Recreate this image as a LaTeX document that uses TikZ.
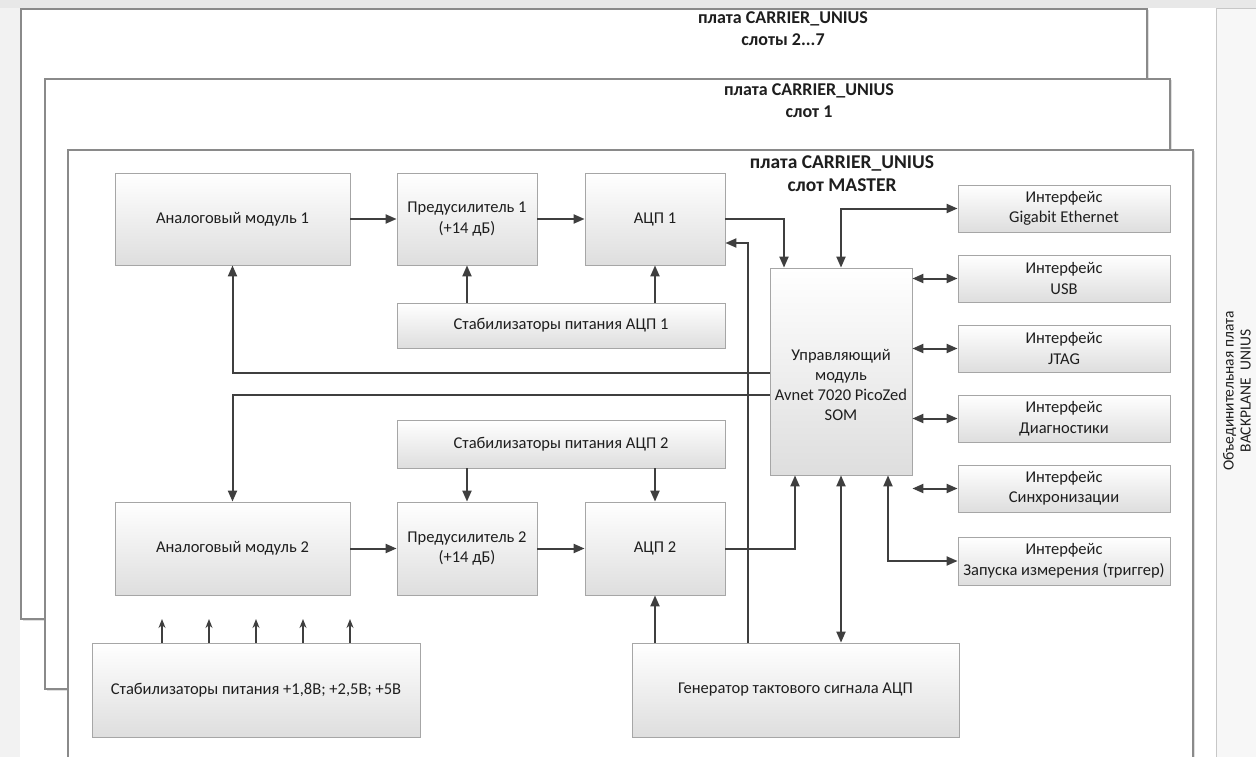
\documentclass[tikz,border=0pt]{standalone}
\usepackage{fontspec}
\setmainfont{Carlito}
\usetikzlibrary{arrows.meta,shadows}
\definecolor{ln}{HTML}{3F3F3F}
\definecolor{frm}{HTML}{8A8A8A}
\definecolor{txt}{HTML}{1E1E1E}
\begin{document}
\begin{tikzpicture}[x=1pt,y=-1pt,
  blk/.style={draw=black!35, line width=0.8pt, top color=white, bottom color=black!13,
    align=center, inner sep=1pt, font=\fontsize{16.5}{20.5}\selectfont, text=txt,
    drop shadow={shadow xshift=1.3pt,shadow yshift=-1.3pt,opacity=0.3}},
  ttl/.style={align=center, font=\bfseries\fontsize{18}{22}\selectfont, text=txt},
  frame/.style={draw=frm, line width=1.3pt, fill=white,
    drop shadow={shadow xshift=1.5pt,shadow yshift=-1.5pt,opacity=0.25}},
  arr/.style={draw=ln, line width=2pt, -{Triangle[length=11pt,width=9pt]}},
  darr/.style={draw=ln, line width=2pt, {Triangle[length=11pt,width=9pt]}-{Triangle[length=11pt,width=9pt]}},
  sarr/.style={draw=ln, line width=1.4pt, -{Stealth[length=9pt,width=7pt]}}
]
\useasboundingbox (0,0) rectangle (1256,757);
\fill[white] (0,0) rectangle (1256,757);
\fill[black!9] (0,0) rectangle (1256,8);
\fill[black!5] (0,8) rectangle (20,757);
% frames
\draw[frame] (21,9) rectangle (1147,619);
\node[ttl] (t1) at (783,29) {плата CARRIER\_UNIUS\\слоты 2...7};
\draw[frame] (45,79) rectangle (1170,689);
\node[ttl] (t2) at (809,101) {плата CARRIER\_UNIUS\\слот 1};
\draw[frame] (68,150) rectangle (1193,770);
\node[ttl, font=\bfseries\fontsize{19.5}{23}\selectfont] (t3) at (842,173.5) {плата CARRIER\_UNIUS\\слот MASTER};
% backplane
\draw[draw=black!22, line width=1pt, fill=black!3] (1216,9) rectangle (1270,770);
\node[rotate=90, align=center, font=\fontsize{15.5}{17}\selectfont, text=txt] (bp) at (1237,391) {Объединительная плата\\BACKPLANE~~UNIUS};
% blocks
\node[blk, minimum width=235pt, minimum height=92pt] (an1) at (232.5,219) {Аналоговый модуль 1};
\node[blk, minimum width=140pt, minimum height=92pt] (pre1) at (467,219) {Предусилитель 1\\(+14 дБ)};
\node[blk, minimum width=140pt, minimum height=92pt] (adc1) at (655,219) {АЦП 1};
\node[blk, minimum width=328pt, minimum height=45pt] (st1) at (561,325.5) {Стабилизаторы питания АЦП 1};
\node[blk, minimum width=142pt, minimum height=207pt] (ctl) at (841,371.5) {};
\node[align=center, font=\fontsize{16.5}{20}\selectfont, text=txt] (ctlt) at (841,385) {Управляющий\\модуль\\Avnet 7020 PicoZed\\SOM};
\node[blk, minimum width=212pt, minimum height=47pt] (ige) at (1064,208.5) {Интерфейс\\Gigabit Ethernet};
\node[blk, minimum width=212pt, minimum height=47pt] (iusb) at (1064,278.5) {Интерфейс\\USB};
\node[blk, minimum width=212pt, minimum height=47pt] (ijt) at (1064,348.5) {Интерфейс\\JTAG};
\node[blk, minimum width=212pt, minimum height=47pt] (idg) at (1064,418.5) {Интерфейс\\Диагностики};
\node[blk, minimum width=212pt, minimum height=47pt] (isy) at (1064,488.5) {Интерфейс\\Синхронизации};
\node[blk, minimum width=212pt, minimum height=48pt] (itr) at (1064,561) {Интерфейс\\Запуска измерения (триггер)};
\node[blk, minimum width=328pt, minimum height=48pt] (st2) at (561,444) {Стабилизаторы питания АЦП 2};
\node[blk, minimum width=235pt, minimum height=93pt] (an2) at (232.5,548.5) {Аналоговый модуль 2};
\node[blk, minimum width=140pt, minimum height=93pt] (pre2) at (467,548.5) {Предусилитель 2\\(+14 дБ)};
\node[blk, minimum width=140pt, minimum height=93pt] (adc2) at (655,548.5) {АЦП 2};
\node[blk, minimum width=328pt, minimum height=94pt] (pw) at (256,690) {Стабилизаторы питания +1,8В; +2,5В; +5В};
\node[blk, minimum width=327pt, minimum height=94pt] (gen) at (795.5,690) {Генератор тактового сигнала АЦП};
% connectors
\draw[arr] (an1) -- (pre1);
\draw[arr] (pre1) -- (adc1);
\draw[arr] (st1.north -| pre1.south) -- (pre1.south);
\draw[arr] (st1.north -| adc1.south) -- (adc1.south);
\draw[arr] (adc1.east) -| ([xshift=-57pt]ctl.north);
\draw[arr] ([xshift=-47.5pt]gen.north) |- ([yshift=-24pt]adc1.east);
\draw[darr] (ctl.north) |- (ige.west);
\draw[darr] (ctl.east |- iusb.west) -- (iusb.west);
\draw[darr] (ctl.east |- ijt.west) -- (ijt.west);
\draw[darr] (ctl.east |- idg.west) -- (idg.west);
\draw[darr] (ctl.east |- isy.west) -- (isy.west);
\draw[arr] ([yshift=-1.5pt]ctl.west) -| (an1.south);
\draw[arr] ([yshift=-23.5pt]ctl.west) -| (an2.north);
\draw[arr] (st2.south -| pre2.north) -- (pre2.north);
\draw[arr] (st2.south -| adc2.north) -- (adc2.north);
\draw[arr] (an2) -- (pre2);
\draw[arr] (pre2) -- (adc2);
\draw[arr] (adc2.east) -| ([xshift=-46pt]ctl.south);
\draw[darr] (gen.north -| ctl.south) -- (ctl.south);
\draw[darr] ([xshift=47pt]ctl.south) |- (itr.west);
\draw[arr] (gen.north -| adc2.south) -- (adc2.south);
\foreach \i/\x in {1/162,2/209,3/256,4/303,5/350}{
  \coordinate (t\i) at (\x,619);
  \draw[sarr] (pw.north -| t\i) -- (t\i);
}
\end{tikzpicture}
\end{document}
